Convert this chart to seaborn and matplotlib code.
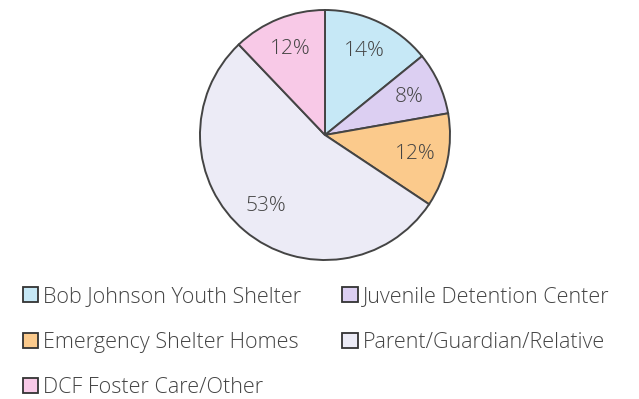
import matplotlib
matplotlib.use("Agg")
import matplotlib.pyplot as plt
import seaborn as sns
from matplotlib.patches import Patch

sns.set_style("white")
plt.rcParams['font.family'] = ['Open Sans', 'DejaVu Sans']

# data
labels = ['Bob Johnson Youth Shelter', 'Juvenile Detention Center', 'Emergency Shelter Homes',
          'Parent/Guardian/Relative', 'DCF Foster Care/Other']
shares = [14, 8, 12, 53, 12]
colors = ['#c6e8f6', '#dccff2', '#fbca8c', '#ecebf6', '#f8c9e7']

fig = plt.figure(figsize=(6.39, 3.99), dpi=100)
ax = fig.add_axes([(325 - 127.5) / 639, (399 - 135 - 127.5) / 399, 255 / 639, 255 / 399])

wedges, texts, autotexts = ax.pie(shares, colors=colors, startangle=90, counterclock=False,
                                  autopct='%d%%', pctdistance=0.74,
                                  wedgeprops=dict(edgecolor='#444444', linewidth=1.4),
                                  textprops=dict(fontsize=15, color='#444444', fontweight='light'))
ax.set_xlim(-1.02, 1.02)
ax.set_ylim(-1.02, 1.02)
ax.set_aspect('equal')

# legend fills column-wise, so reorder to read row by row
order = [0, 2, 4, 1, 3]
handles = [Patch(facecolor=colors[i], edgecolor='#333333', linewidth=1.3) for i in order]
leg = fig.legend(handles, [labels[i] for i in order], ncol=2, loc='upper left',
                 bbox_to_anchor=(0.036, 0.282), frameon=False,
                 prop=dict(size=15.5, weight='light'),
                 labelcolor='#444444', handlelength=0.7, handleheight=0.7,
                 handletextpad=0.25, labelspacing=1.12, columnspacing=1.9,
                 borderpad=0, borderaxespad=0)

fig.savefig('out.png', dpi=100)
